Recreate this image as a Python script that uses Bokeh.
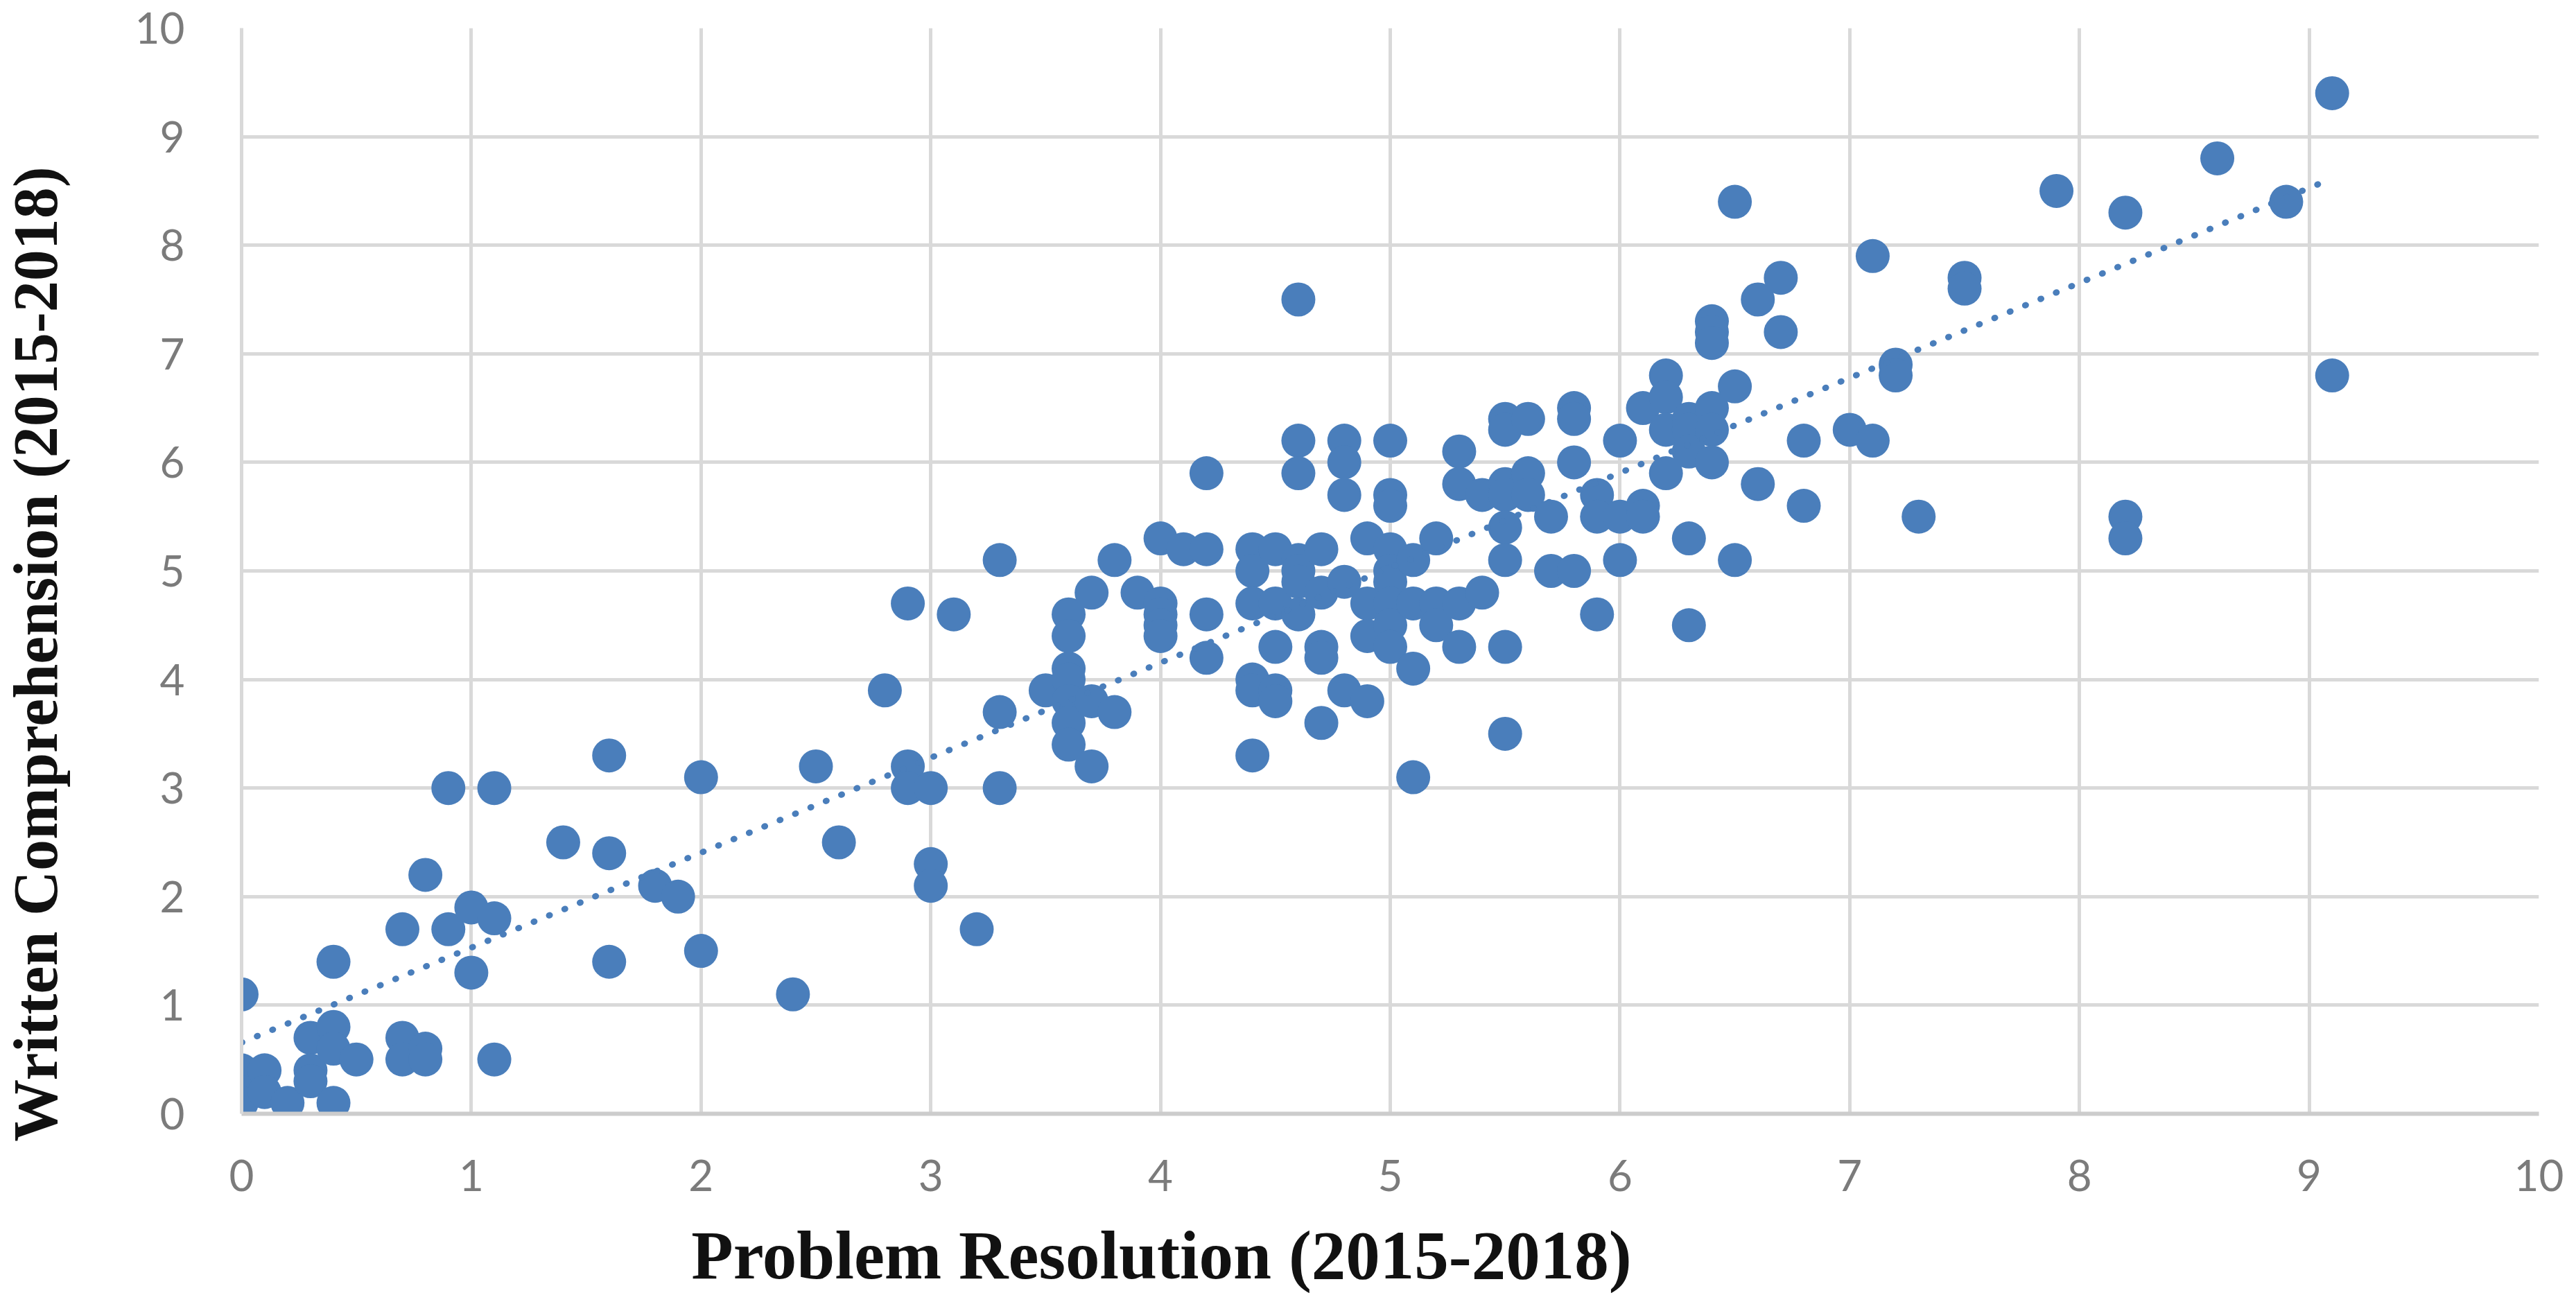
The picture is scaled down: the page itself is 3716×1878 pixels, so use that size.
import numpy as np
from bokeh.plotting import figure
from bokeh.models import Range1d, FixedTicker, Label
from bokeh.layouts import column, row
from bokeh.embed import file_html
from bokeh.resources import INLINE

# Problem Resolution (x) and Written Comprehension (y)
pr_values = [
    0.0, 0.0, 0.0, 0.0,
    0.1, 0.1,
    0.2,
    0.3, 0.3, 0.3,
    0.4, 0.4, 0.4, 0.4,
    0.5,
    0.7, 0.7, 0.7,
    0.8, 0.8, 0.8,
    0.9, 0.9,
    1.0, 1.0,
    1.1, 1.1, 1.1,
    1.4,
    1.6, 1.6, 1.6,
    1.8,
    1.9,
    2.0, 2.0,
    2.4,
    2.5,
    2.6,
    2.8,
    2.9, 2.9, 2.9,
    3.0, 3.0, 3.0,
    3.1,
    3.2,
    3.3, 3.3, 3.3,
    3.5,
    3.6, 3.6, 3.6, 3.6, 3.6, 3.6, 3.6,
    3.7, 3.7, 3.7,
    3.8, 3.8,
    3.9,
    4.0, 4.0, 4.0, 4.0, 4.0,
    4.1,
    4.2, 4.2, 4.2, 4.2,
    4.4, 4.4, 4.4, 4.4, 4.4, 4.4,
    4.5, 4.5, 4.5, 4.5, 4.5,
    4.6, 4.6, 4.6, 4.6, 4.6, 4.6, 4.6,
    4.7, 4.7, 4.7, 4.7, 4.7,
    4.8, 4.8, 4.8, 4.8, 4.8,
    4.9, 4.9, 4.9, 4.9,
    5.0, 5.0, 5.0, 5.0, 5.0, 5.0, 5.0, 5.0, 5.0,
    5.1, 5.1, 5.1, 5.1,
    5.2, 5.2, 5.2,
    5.3, 5.3, 5.3, 5.3,
    5.4, 5.4,
    5.5, 5.5, 5.5, 5.5, 5.5, 5.5, 5.5, 5.5,
    5.6, 5.6, 5.6,
    5.7, 5.7,
    5.8, 5.8, 5.8, 5.8,
    5.9, 5.9, 5.9,
    6.0, 6.0, 6.0,
    6.1, 6.1, 6.1,
    6.2, 6.2, 6.2, 6.2,
    6.3, 6.3, 6.3, 6.3, 6.3,
    6.4, 6.4, 6.4, 6.4, 6.4, 6.4,
    6.5, 6.5, 6.5,
    6.6, 6.6,
    6.7, 6.7,
    6.8, 6.8,
    7.0,
    7.1, 7.1,
    7.2, 7.2,
    7.3,
    7.5, 7.5,
    7.9,
    8.2, 8.2, 8.2,
    8.6,
    8.9,
    9.1, 9.1,
]
wc_values = [
    1.1, 0.4, 0.2, 0.1,
    0.4, 0.2,
    0.1,
    0.7, 0.4, 0.3,
    1.4, 0.8, 0.6, 0.1,
    0.5,
    1.7, 0.7, 0.5,
    2.2, 0.6, 0.5,
    3.0, 1.7,
    1.9, 1.3,
    3.0, 1.8, 0.5,
    2.5,
    3.3, 2.4, 1.4,
    2.1,
    2.0,
    3.1, 1.5,
    1.1,
    3.2,
    2.5,
    3.9,
    4.7, 3.2, 3.0,
    3.0, 2.3, 2.1,
    4.6,
    1.7,
    5.1, 3.7, 3.0,
    3.9,
    4.6, 4.4, 4.1, 4.0, 3.8, 3.6, 3.4,
    4.8, 3.8, 3.2,
    5.1, 3.7,
    4.8,
    5.3, 4.7, 4.6, 4.5, 4.4,
    5.2,
    5.9, 5.2, 4.6, 4.2,
    5.2, 5.0, 4.7, 4.0, 3.9, 3.3,
    5.2, 4.7, 4.3, 3.9, 3.8,
    7.5, 6.2, 5.9, 5.1, 5.0, 4.9, 4.6,
    5.2, 4.8, 4.3, 4.2, 3.6,
    6.2, 6.0, 5.7, 4.9, 3.9,
    5.3, 4.7, 4.4, 3.8,
    6.2, 5.7, 5.6, 5.2, 5.0, 4.9, 4.7, 4.5, 4.3,
    5.1, 4.7, 4.1, 3.1,
    5.3, 4.7, 4.5,
    6.1, 5.8, 4.7, 4.3,
    5.7, 4.8,
    6.4, 6.3, 5.8, 5.7, 5.4, 5.1, 4.3, 3.5,
    6.4, 5.9, 5.7,
    5.5, 5.0,
    6.5, 6.4, 6.0, 5.0,
    5.7, 5.5, 4.6,
    6.2, 5.5, 5.1,
    6.5, 5.6, 5.5,
    6.8, 6.6, 6.3, 5.9,
    6.4, 6.3, 6.1, 5.3, 4.5,
    7.3, 7.2, 7.1, 6.5, 6.3, 6.0,
    8.4, 6.7, 5.1,
    7.5, 5.8,
    7.7, 7.2,
    6.2, 5.6,
    6.3,
    7.9, 6.2,
    6.9, 6.8,
    5.5,
    7.7, 7.6,
    8.5,
    8.3, 5.5, 5.3,
    8.8,
    8.4,
    9.4, 6.8,
]
tick_values = [0, 1, 2, 3, 4, 5, 6, 7, 8, 9, 10]
x_title = "Problem Resolution (2015-2018)"
y_title = "Written Comprehension (2015-2018)"

BLUE = "#4a7ebb"
GRID = "#d9d9d9"
TICK = "#7b7b7b"
TITLE_FONT = "Liberation Serif"

MAIN_LEFT = 242

# ---- main plot -------------------------------------------------------------
p = figure(
    frame_width=3314, frame_height=1566,
    min_border_left=MAIN_LEFT, min_border_right=38,
    min_border_top=40, min_border_bottom=140,
    x_range=Range1d(0, 10), y_range=Range1d(0, 10),
    output_backend="svg", toolbar_location=None,
    background_fill_color="white", border_fill_color="white",
)
p.outline_line_color = None

for ax in (p.xaxis, p.yaxis):
    ax.ticker = FixedTicker(ticks=tick_values)
    ax.major_tick_line_color = None
    ax.minor_tick_line_color = None
    ax.major_label_text_font = "Lato"
    ax.major_label_text_font_size = "62px"
    ax.major_label_text_color = TICK
p.xaxis.axis_line_color = "#cccccc"
p.xaxis.axis_line_width = 6
p.yaxis.axis_line_color = GRID
p.yaxis.axis_line_width = 5
p.xaxis.major_label_standoff = 60
p.yaxis.major_label_standoff = 76

p.xgrid.ticker = FixedTicker(ticks=tick_values)
p.ygrid.ticker = FixedTicker(ticks=tick_values)
p.grid.grid_line_color = GRID
p.grid.grid_line_width = 5

# linear trend line fitted to the data
slope, intercept = np.polyfit(pr_values, wc_values, 1)
x_fit = [min(pr_values), max(pr_values)]
y_fit = [slope * v + intercept for v in x_fit]

p.scatter(pr_values, wc_values, size=49, fill_color=BLUE, line_color=BLUE, line_width=0)
p.line(x_fit, y_fit, line_color=BLUE, line_width=9, line_dash="1 23", line_cap="round")

MAIN_H = 40 + 1566 + 140
XB_H = 119
A_W = 106
TOTAL_H = MAIN_H + XB_H


def text_panel(w, h):
    f = figure(
        width=w, height=h, min_border=0,
        x_range=Range1d(0, 1), y_range=Range1d(0, 1),
        x_axis_location=None, y_axis_location=None,
        output_backend="svg", toolbar_location=None,
        background_fill_color="white", border_fill_color="white",
    )
    f.outline_line_color = None
    f.grid.visible = False
    return f


# ---- y axis title (left strip, full height) --------------------------------
ya = text_panel(A_W, TOTAL_H)
ya.add_layout(Label(
    x=51, y=TOTAL_H - 943, x_units="screen", y_units="screen", text=y_title,
    angle=np.pi / 2,
    text_font=TITLE_FONT, text_font_style="bold",
    text_font_size="90px", text_color="#111111",
    text_align="center", text_baseline="middle",
))

# ---- x axis title (bottom strip; its frame lines up with the plot frame) ----
xb = text_panel(3700 - A_W, XB_H)
xb.add_layout(Label(
    x=1675 - A_W - MAIN_LEFT, y=XB_H - 64, x_units="screen", y_units="screen",
    text=x_title,
    text_font=TITLE_FONT, text_font_style="bold",
    text_font_size="99px", text_color="#111111",
    text_align="center", text_baseline="middle",
))

layout = row(ya, column(p, xb, spacing=0), spacing=0)

open("out.html", "w").write(file_html(layout, INLINE))
